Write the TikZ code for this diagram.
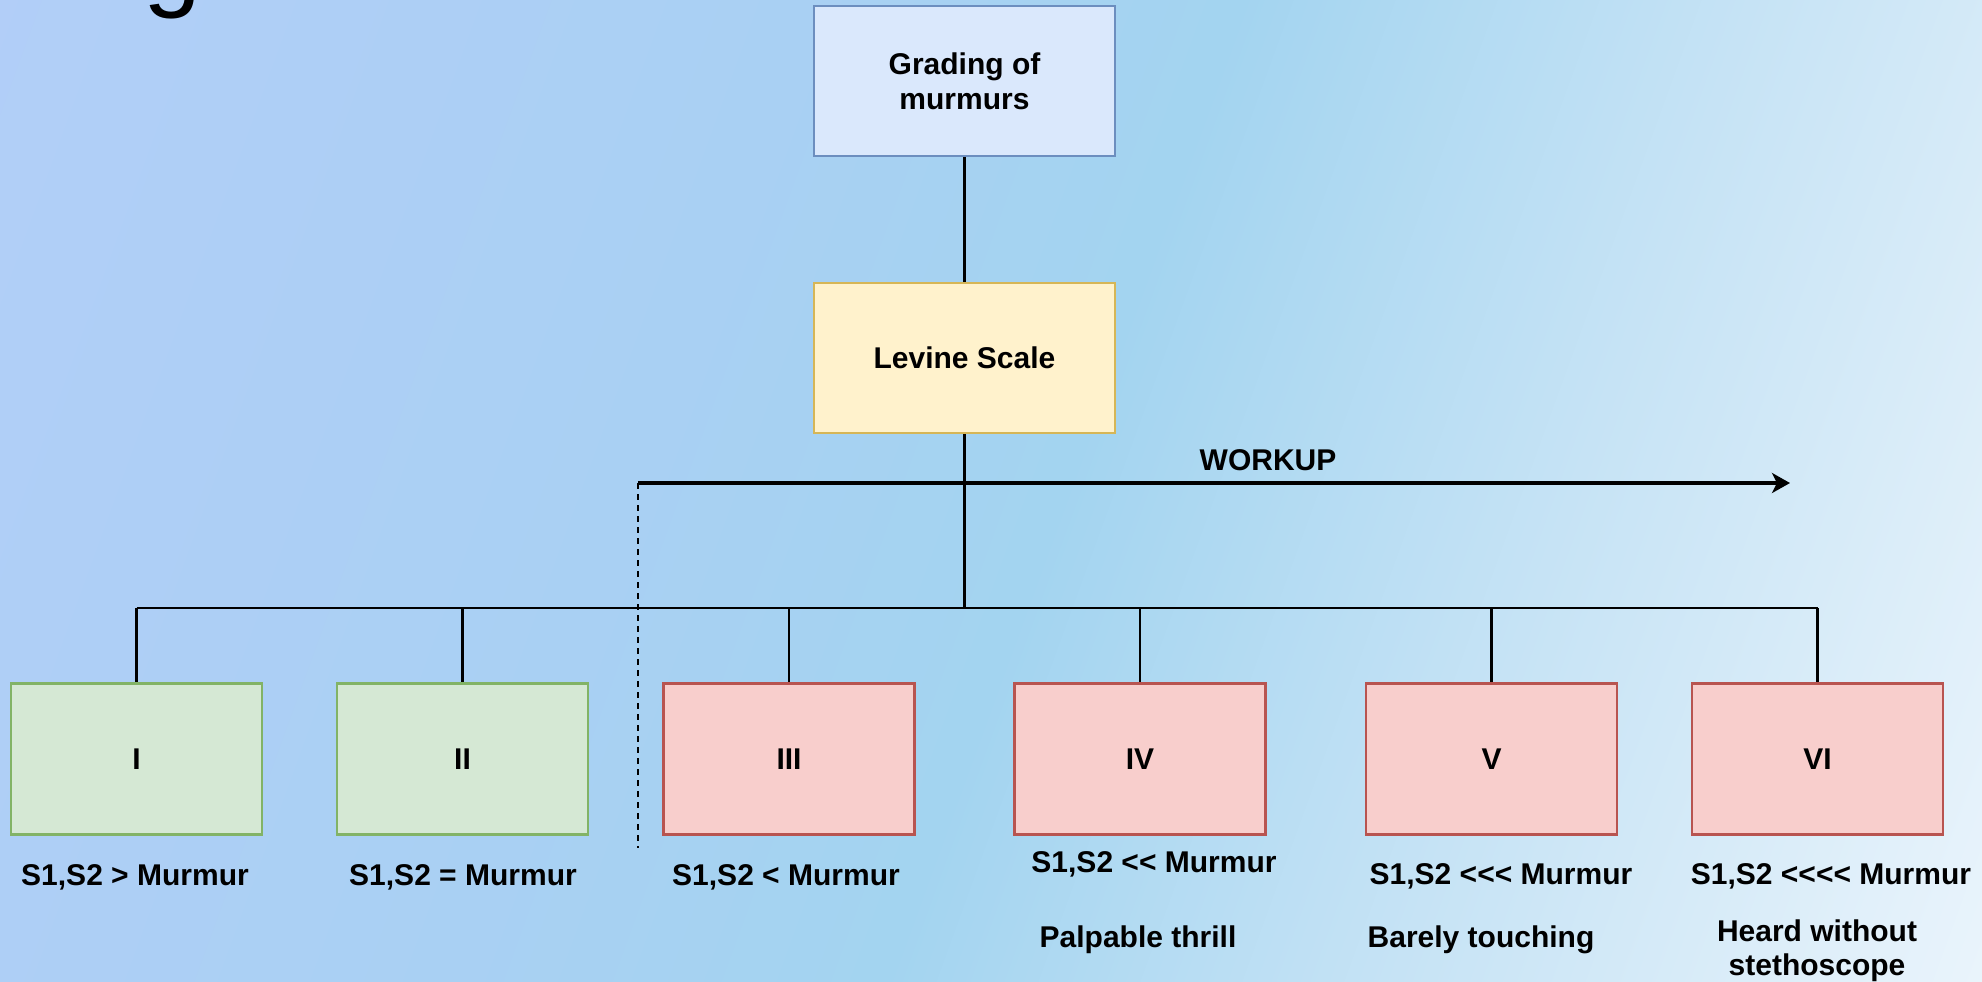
\documentclass[tikz,border=0pt]{standalone}
\usepackage{fontspec}
\setmainfont{Liberation Sans}[Ligatures=TeXOff]
\usetikzlibrary{arrows.meta}

% backdrop colours
\definecolor{bgA}{HTML}{B4CEF9}
\definecolor{bgB}{HTML}{A9D0F3}
\definecolor{bgC}{HTML}{A3D4F0}
\definecolor{bgD}{HTML}{C6E3F5}
\definecolor{bgE}{HTML}{F2F8FD}
% box colours
\definecolor{blueFill}{HTML}{DAE8FC}
\definecolor{blueLine}{HTML}{6C8EBF}
\definecolor{yellowFill}{HTML}{FFF2CC}
\definecolor{yellowLine}{HTML}{D6B656}
\definecolor{greenFill}{HTML}{D5E8D4}
\definecolor{greenLine}{HTML}{82B366}
\definecolor{redFill}{HTML}{F8CECC}
\definecolor{redLine}{HTML}{B85450}

\pgfdeclarehorizontalshading{backdrop}{100bp}{%
  color(0bp)=(bgA); color(12bp)=(bgA); color(40bp)=(bgB); color(52bp)=(bgC);
  color(66bp)=(bgD); color(86bp)=(bgE); color(100bp)=(bgE)}

\tikzset{
  txt/.style={font=\fontsize{15}{17.5}\selectfont\bfseries, align=center},
  box/.style={draw, line width=1.2pt, inner sep=0pt, txt,
              minimum width=150.5pt, minimum height=75pt},
  gradebox/.style={box, minimum width=125.5pt, minimum height=75.5pt},
  mild/.style={gradebox, fill=greenFill, draw=greenLine},
  loud/.style={gradebox, fill=redFill, draw=redLine},
  caption/.style={txt, inner sep=0pt, anchor=base},
  conn/.style={draw=black, line width=1.2pt},
  workarrow/.style={draw=black, line width=2.2pt,
                    -{Stealth[length=9pt, width=10pt, inset=2.5pt]}},
}

\begin{document}
\begin{tikzpicture}[x=0.5pt, y=-0.5pt]
  \useasboundingbox (0,0) rectangle (1982,981);
  \clip (0,0) rectangle (1982,981);
  \shade[shading=backdrop, shading angle=-20] (0,0) rectangle (1982,981);

  % heading glyph running off the top edge
  \node[anchor=base west, inner sep=0pt, font=\fontsize{52}{52}\selectfont]
    (heading) at (143,-3) {g};

  % top of the hierarchy
  \node[box, fill=blueFill, draw=blueLine] (grade) at (964.5,81) {Grading of\\murmurs};
  \node[box, fill=yellowFill, draw=yellowLine] (levine) at (964.5,358) {Levine Scale};

  % the six grades
  \node[mild] (g1) at (136.5,759) {I};
  \node[mild] (g2) at (462.5,759) {II};
  \node[loud] (g3) at (789,759) {III};
  \node[loud] (g4) at (1140,759) {IV};
  \node[loud] (g5) at (1491.5,759) {V};
  \node[loud] (g6) at (1817.5,759) {VI};

  % captions under the grades
  \node[caption] (c1) at (135,885) {S1,S2 > Murmur};
  \node[caption] (c2) at (463,885) {S1,S2 = Murmur};
  \node[caption] (c3) at (786,885) {S1,S2 < Murmur};
  \node[caption] (c4) at (1154,872) {S1,S2 << Murmur};
  \node[caption] (c5) at (1501,884) {S1,S2 <<< Murmur};
  \node[caption] (c6) at (1831,884) {S1,S2 <<<< Murmur};
  \node[caption] (d4) at (1138,947) {Palpable thrill};
  \node[caption] (d5) at (1481,947) {Barely touching};
  \node[caption] (d6a) at (1817,941) {Heard without};
  \node[caption] (d6b) at (1817,975) {stethoscope};

  % tree connectors
  \coordinate (bus) at (964.5,608);
  \draw[conn] (grade) -- (levine);
  \draw[conn] (levine.south) -- (bus);
  \draw[conn] (g1.north |- bus) -- (g6.north |- bus);
  \foreach \g in {g1,g2,g3,g4,g5,g6}
    \draw[conn] (\g.north |- bus) -- (\g.north);

  % work-up arrow and threshold marker
  \coordinate (wstart) at (638,483);
  \coordinate (wend) at (1790,483);
  \coordinate (cut) at (638,848);
  \draw[workarrow] (wstart) -- (wend);
  \node[caption] (workup) at (1268,470) {WORKUP};
  \draw[conn, line width=1.4pt, dash pattern=on 3pt off 2.5pt] (wstart) -- (cut);
\end{tikzpicture}
\end{document}
